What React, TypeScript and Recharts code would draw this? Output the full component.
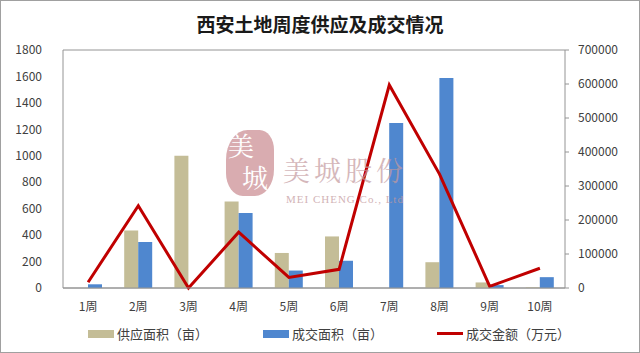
import React from "react";
import { ComposedChart, Bar, Line, XAxis, YAxis, CartesianGrid, Legend } from "recharts";

const weeks = ["1周", "2周", "3周", "4周", "5周", "6周", "7周", "8周", "9周", "10周"];
const supplyArea = [0, 435, 1000, 655, 265, 390, 0, 195, 42, 5];
const dealArea = [28, 348, 0, 568, 132, 206, 1248, 1588, 22, 82];
const dealAmount = [17000, 242000, 0, 164000, 31000, 55000, 597000, 335000, 5000, 58000];
const leftTicks = [0, 200, 400, 600, 800, 1000, 1200, 1400, 1600, 1800];
const rightTicks = [0, 100000, 200000, 300000, 400000, 500000, 600000, 700000];

const seriesNames = ["供应面积（亩）", "成交面积（亩）", "成交金额（万元）"];
const title = "西安土地周度供应及成交情况";

const data = weeks.map((w, i) => ({
  week: w,
  supply: supplyArea[i],
  deal: dealArea[i],
  amount: dealAmount[i],
}));

const FONT = "'Noto Sans CJK SC', 'Noto Sans', sans-serif";
const SERIF = "'Noto Serif CJK SC', 'Noto Sans CJK SC', serif";
const TAN = "#C4BD97";
const BLUE = "#4F87CF";
const RED = "#C00000";

const LegendContent = () => {
  const items = [
    { name: seriesNames[0], color: TAN, type: "rect", left: 83 },
    { name: seriesNames[1], color: BLUE, type: "rect", left: 258 },
    { name: seriesNames[2], color: RED, type: "line", left: 432 },
  ];
  return (
    <div style={{ position: "relative", width: 640, height: 30 }}>
      {items.map((it) => (
        <div
          key={it.name}
          style={{
            position: "absolute",
            left: it.left,
            top: 6,
            display: "flex",
            alignItems: "center",
            fontFamily: FONT,
            fontSize: 13,
            color: "#404040",
          }}
        >
          {it.type === "rect" ? (
            <div style={{ width: 26, height: 8, background: it.color, marginRight: 3 }} />
          ) : (
            <div style={{ width: 26, height: 3, background: it.color, marginRight: 3 }} />
          )}
          <span>{it.name}</span>
        </div>
      ))}
    </div>
  );
};

export default function App() {
  return (
    <div style={{ position: "absolute", left: 0, top: 0, width: 640, height: 353, background: "#fff" }}>
      <div
        style={{
          position: "absolute",
          left: 0,
          top: 10,
          width: 640,
          textAlign: "center",
          fontFamily: FONT,
          fontWeight: 700,
          fontSize: 19,
          color: "#1a1a1a",
        }}
      >
        {title}
      </div>
      <div style={{ position: "absolute", left: 0, top: 0 }}>
        <ComposedChart
          width={640}
          height={353}
          data={data}
          margin={{ top: 50, right: 5, bottom: 5, left: 5 }}
          barGap={0}
        >
          <CartesianGrid vertical={false} stroke="#949494" strokeWidth={1} />
          <XAxis
            dataKey="week"
            height={30}
            tickLine={false}
            axisLine={{ stroke: "#949494" }}
            tick={{ fontFamily: FONT, fontSize: 12, fill: "#404040" }}
            tickMargin={8}
          />
          <YAxis
            yAxisId="left"
            width={58}
            domain={[0, 1800]}
            ticks={leftTicks}
            interval={0}
            tickLine={false}
            tickSize={0}
            tickMargin={21}
            axisLine={{ stroke: "#949494" }}
            tick={{ fontFamily: FONT, fontSize: 12, fill: "#404040" }}
          />
          <YAxis
            yAxisId="right"
            orientation="right"
            width={70}
            domain={[0, 700000]}
            ticks={rightTicks}
            interval={0}
            tickSize={4}
            tickMargin={9}
            tickLine={{ stroke: "#949494" }}
            axisLine={{ stroke: "#949494" }}
            tick={{ fontFamily: FONT, fontSize: 12, fill: "#404040", textAnchor: "start" }}
          />
          <Legend verticalAlign="bottom" height={30} content={<LegendContent />} />
          <Bar yAxisId="left" dataKey="supply" name={seriesNames[0]} fill={TAN} barSize={14} isAnimationActive={false} />
          <Bar yAxisId="left" dataKey="deal" name={seriesNames[1]} fill={BLUE} barSize={14} isAnimationActive={false} />
          <Line
            yAxisId="right"
            type="linear"
            dataKey="amount"
            name={seriesNames[2]}
            stroke={RED}
            strokeWidth={3}
            dot={false}
            isAnimationActive={false}
          />
        </ComposedChart>
      </div>
      {/* watermark, drawn over the chart */}
      <div style={{ position: "absolute", left: 226, top: 130, width: 50, height: 68, opacity: 0.7, pointerEvents: "none" }}>
        <div
          style={{
            position: "absolute",
            left: 0,
            top: 0,
            width: 48,
            height: 66,
            background: "#c98a8f",
            borderRadius: "45% 30% 40% 35%",
          }}
        />
        <div style={{ position: "absolute", left: 2, top: 0, fontFamily: SERIF, fontSize: 26, color: "#fff", lineHeight: "30px" }}>美</div>
        <div style={{ position: "absolute", left: 16, top: 32, fontFamily: SERIF, fontSize: 26, color: "#fff", lineHeight: "30px" }}>城</div>
      </div>
      <div style={{ position: "absolute", left: 283, top: 155, fontFamily: SERIF, fontSize: 27, lineHeight: "30px", color: "#c49a9e", letterSpacing: 4, opacity: 0.7, pointerEvents: "none" }}>
        美城股份
      </div>
      <div style={{ position: "absolute", left: 286, top: 193, fontFamily: "'Liberation Serif', serif", fontSize: 11, lineHeight: "12px", color: "#c49a9e", letterSpacing: 1, opacity: 0.75, pointerEvents: "none" }}>
        MEI CHENG Co., Ltd
      </div>
      <div
        style={{
          position: "absolute",
          left: 0,
          top: 0,
          width: 640,
          height: 353,
          boxSizing: "border-box",
          border: "1px solid #a0a0a0",
          pointerEvents: "none",
        }}
      />
    </div>
  );
}
